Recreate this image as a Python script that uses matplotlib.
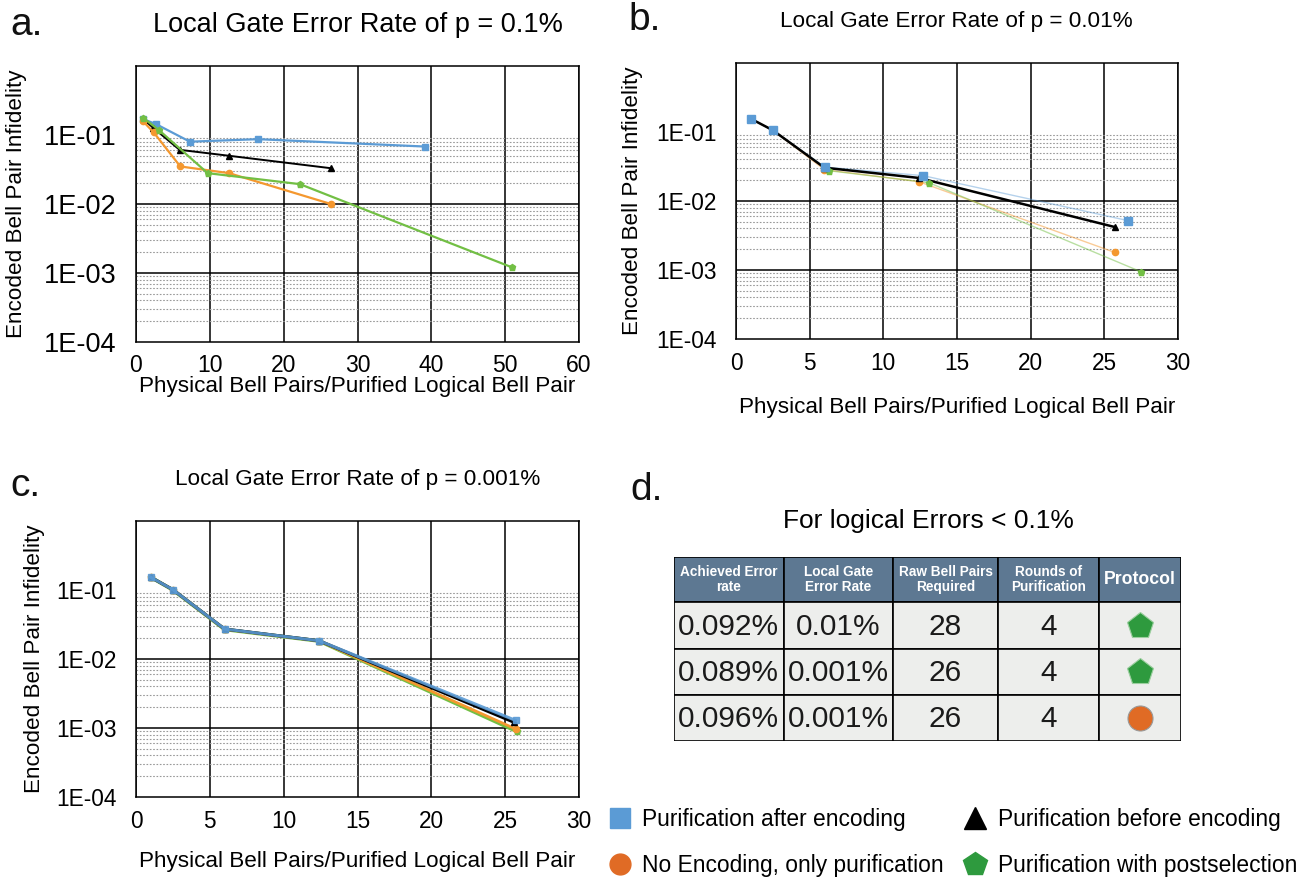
import numpy as np
import matplotlib
matplotlib.use('Agg')
import matplotlib.pyplot as plt
from matplotlib.lines import Line2D
from matplotlib.patches import Rectangle
from matplotlib.ticker import FixedLocator, NullFormatter

plt.rcParams['font.family'] = ['Liberation Sans', 'DejaVu Sans']

# ---- data ----
# panel a, p = 0.1%
a_blue_x = [0.95, 2.7, 7.3, 16.5, 39.2]
a_blue_y = [0.170, 0.144, 0.080, 0.087, 0.068]
a_orange_x = [0.95, 2.4, 6.0, 12.6, 26.4]
a_orange_y = [0.158, 0.109, 0.035, 0.028, 0.010]
a_black_x = [0.95, 2.3, 5.9, 12.6, 26.4]
a_black_y = [0.170, 0.128, 0.061, 0.050, 0.033]
a_green_x = [0.95, 3.1, 9.7, 22.2, 50.9]
a_green_y = [0.178, 0.118, 0.028, 0.0194, 0.00121]

# panel b, p = 0.01%
b_blue_x = [1.0, 2.5, 6.05, 12.7, 26.6]
b_blue_y = [0.156, 0.106, 0.031, 0.0233, 0.0052]
b_orange_x = [1.0, 2.5, 6.0, 12.4, 25.7]
b_orange_y = [0.156, 0.106, 0.0285, 0.0191, 0.0018]
b_black_x = [1.0, 2.5, 6.0, 12.4, 25.7]
b_black_y = [0.156, 0.106, 0.0304, 0.0216, 0.0042]
b_green_x = [1.0, 2.5, 6.3, 13.1, 27.5]
b_green_y = [0.156, 0.106, 0.0275, 0.0184, 0.00094]

# panel c, p = 0.001%
c_blue_x = [1.0, 2.5, 6.0, 12.4, 25.7]
c_blue_y = [0.153, 0.101, 0.0272, 0.0184, 0.00129]
c_black_x = [1.0, 2.5, 6.0, 12.4, 25.6]
c_black_y = [0.153, 0.101, 0.0272, 0.0184, 0.00121]
c_orange_x = [1.0, 2.5, 6.0, 12.4, 25.7]
c_orange_y = [0.153, 0.101, 0.0270, 0.0183, 0.00097]
c_green_x = [1.0, 2.5, 6.0, 12.4, 25.8]
c_green_y = [0.153, 0.100, 0.0268, 0.0182, 0.00089]

# panel d table
tbl_header = ['Achieved Error\nrate', 'Local Gate\nError Rate', 'Raw Bell Pairs\nRequired',
              'Rounds of\nPurification', 'Protocol']
tbl_achieved = ['0.092%', '0.089%', '0.096%']
tbl_gate = ['0.01%', '0.001%', '0.001%']
tbl_raw = [28, 26, 26]
tbl_rounds = [4, 4, 4]
tbl_protocol = ['postselection', 'postselection', 'no_encoding']

BLUE, ORANGE, BLACK, GREEN = '#5B9BD5', '#F4982F', '#000000', '#72BF44'
LEG_ORANGE, LEG_GREEN = '#E06B25', '#2E9A3E'

W, H = 1315, 877
fig = plt.figure(figsize=(W / 100, H / 100), dpi=100)


def px_axes(l, t, r, b):
    return fig.add_axes([l / W, 1 - b / H, (r - l) / W, (b - t) / H])


def style(ax, xmax, ytick_size, xtick_size, ylab_x, xlab_y, lab_size):
    ax.set_yscale('log')
    ax.set_ylim(1e-4, 1)
    ax.set_xlim(0, xmax)
    ax.set_xticks(np.arange(0, xmax + 1, 5 if xmax == 30 else 10))
    ax.set_yticks([1e-4, 1e-3, 1e-2, 1e-1])
    ax.set_yticklabels(['1E-04', '1E-03', '1E-02', '1E-01'])
    minors = [m * 10.0 ** e for e in (-4, -3, -2) for m in range(2, 10)]
    ax.yaxis.set_minor_locator(FixedLocator(minors))
    ax.yaxis.set_minor_formatter(NullFormatter())
    ax.tick_params(which='both', length=0)
    ax.tick_params(axis='y', labelsize=ytick_size, pad=14)
    ax.tick_params(axis='x', labelsize=xtick_size, pad=9)
    ax.xaxis.grid(True, color='black', lw=1.1)
    ax.yaxis.grid(True, which='minor', color='#999999', lw=0.8, ls=(0, (1.5, 1.5)))
    for v in (1e-2, 1e-3):
        ax.axhline(v, color='black', lw=1.1, zorder=1)
    for s in ax.spines.values():
        s.set_color('black')
        s.set_linewidth(1.1)
    ax.set_ylabel('Encoded Bell Pair Infidelity', fontsize=lab_size)
    ax.yaxis.set_label_coords(ylab_x, 0.5)
    ax.set_xlabel('Physical Bell Pairs/Purified Logical Bell Pair', fontsize=lab_size)
    ax.xaxis.set_label_coords(0.5, xlab_y)
    ax.set_axisbelow(True)


# ---- panel a ----
ax_a = px_axes(136, 66, 579, 342)
ax_a.plot(a_blue_x, a_blue_y, color=BLUE, lw=1.6, marker='s', ms=5, zorder=3)
ax_a.plot(a_black_x, a_black_y, color=BLACK, lw=1.4, marker='^', ms=4.5, zorder=3)
ax_a.plot(a_orange_x, a_orange_y, color=ORANGE, lw=1.6, marker='o', ms=4.5, zorder=3)
ax_a.plot(a_green_x, a_green_y, color=GREEN, lw=1.6, marker='p', ms=5, zorder=3)
style(ax_a, 60, 19.5, 16.5, -0.245, -0.123, 16.2)

# ---- panel b ----
ax_b = px_axes(736, 63, 1178, 339)
ax_b.plot(b_blue_x, b_blue_y, color=BLUE, lw=1.0, alpha=0.45, zorder=3)
ax_b.plot(b_orange_x, b_orange_y, color=ORANGE, lw=1.0, alpha=0.5, zorder=3)
ax_b.plot(b_green_x, b_green_y, color=GREEN, lw=1.0, alpha=0.5, zorder=3)
ax_b.plot(b_black_x, b_black_y, color=BLACK, lw=1.8, zorder=3)
ax_b.plot(b_orange_x, b_orange_y, ls='none', color=ORANGE, marker='o', ms=4.5, zorder=4)
ax_b.plot(b_green_x, b_green_y, ls='none', color=GREEN, marker='p', ms=5, zorder=4)
ax_b.plot(b_black_x, b_black_y, ls='none', color=BLACK, marker='^', ms=4.5, zorder=4)
ax_b.plot(b_blue_x, b_blue_y, ls='none', color=BLUE, marker='s', ms=5.5, zorder=5)
style(ax_b, 30, 16.3, 16.3, -0.21, -0.21, 16.2)

# ---- panel c ----
ax_c = px_axes(136, 521, 579, 797)
ax_c.plot(c_green_x, c_green_y, color=GREEN, lw=2.6, marker='p', ms=5, zorder=3)
ax_c.plot(c_orange_x, c_orange_y, color=ORANGE, lw=2.0, marker='o', ms=4.5, zorder=3)
ax_c.plot(c_black_x, c_black_y, color=BLACK, lw=2.2, marker='^', ms=4.5, zorder=3)
ax_c.plot(c_blue_x, c_blue_y, color=BLUE, lw=2.2, marker='s', ms=5, alpha=0.9, zorder=4)
style(ax_c, 30, 16.3, 16.3, -0.205, -0.196, 16.2)

# titles and panel letters
fig.text(358 / W, 1 - 25 / H, 'Local Gate Error Rate of p = 0.1%', fontsize=19.5, ha='center', va='center')
fig.text(956 / W, 1 - 22 / H, 'Local Gate Error Rate of p = 0.01%', fontsize=16.2, ha='center', va='center')
fig.text(358 / W, 1 - 480 / H, 'Local Gate Error Rate of p = 0.001%', fontsize=16.2, ha='center', va='center')
for lab, x, y in [('a.', 10, 25), ('b.', 628, 20), ('c.', 10, 486), ('d.', 630, 490)]:
    fig.text(x / W, 1 - y / H, lab, fontsize=28, ha='left', va='center', color='#111111')
fig.text(928 / W, 1 - 521 / H, 'For logical Errors < 0.1%', fontsize=19, ha='center', va='center')

# ---- panel d table ----
ax_t = px_axes(674, 557, 1181, 741)
ax_t.set_xlim(0, 507)
ax_t.set_ylim(184, 0)
ax_t.axis('off')
col_edges = [0, 109.7, 219.3, 323.7, 424.7, 507]
row_edges = [0, 45.4, 91.7, 138, 184]
for j, head in enumerate(tbl_header):
    x0, x1 = col_edges[j], col_edges[j + 1]
    ax_t.add_patch(Rectangle((x0, 0), x1 - x0, row_edges[1], facecolor='#5D7892',
                             edgecolor='black', lw=1.2))
    ax_t.text((x0 + x1) / 2, row_edges[1] / 2, head, color='white', fontweight='bold',
              fontsize=12.7 if head == 'Protocol' else 9.8, ha='center', va='center',
              linespacing=1.1)
rows = list(zip(tbl_achieved, tbl_gate, tbl_raw, tbl_rounds, tbl_protocol))
for i, row in enumerate(rows):
    y0, y1 = row_edges[i + 1], row_edges[i + 2]
    for j, val in enumerate(row):
        x0, x1 = col_edges[j], col_edges[j + 1]
        ax_t.add_patch(Rectangle((x0, y0), x1 - x0, y1 - y0, facecolor='#EDEEEC',
                                 edgecolor='black', lw=1.2))
        cx, cy = (x0 + x1) / 2, (y0 + y1) / 2
        if j == 4:
            if val == 'postselection':
                ax_t.plot(cx, cy, marker='p', ms=20, color=LEG_GREEN, mec='#9ccf9f', mew=0.8)
            else:
                ax_t.plot(cx, cy, marker='o', ms=18, color=LEG_ORANGE, mec='#999999', mew=0.8)
        else:
            ax_t.text(cx, cy + 1, str(val), fontsize=21.5, ha='center', va='center', color='#1a1a1a')

# ---- legend ----
handles = [
    Line2D([], [], ls='none', marker='s', ms=14, color=BLUE, label='Purification after encoding'),
    Line2D([], [], ls='none', marker='o', ms=15, color=LEG_ORANGE, label='No Encoding, only purification'),
    Line2D([], [], ls='none', marker='^', ms=16, color='black', label='Purification before encoding'),
    Line2D([], [], ls='none', marker='p', ms=18, color=LEG_GREEN, label='Purification with postselection'),
]
fig.legend(handles=handles, ncol=2, loc='upper left', bbox_to_anchor=(598 / W, 1 - 797 / H),
           frameon=False, fontsize=16.4, handlelength=0.9, handletextpad=0.55,
           columnspacing=0.9, labelspacing=1.0, borderpad=0)

fig.savefig('out.png', dpi=100)
